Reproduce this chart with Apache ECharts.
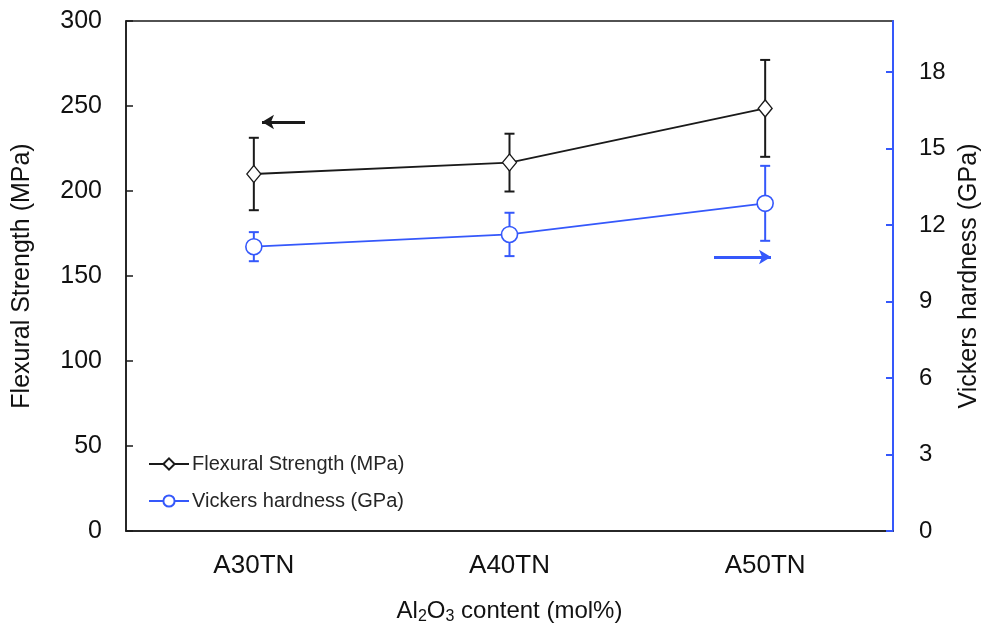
<!DOCTYPE html>
<html>
<head>
<meta charset="utf-8">
<script src="https://cdn.jsdelivr.net/npm/echarts@6/dist/echarts.min.js"></script>
<style>
  html, body { margin: 0; padding: 0; background: #fff; }
  #chart { width: 989px; height: 626px; }
</style>
</head>
<body>
<div id="chart"></div>
<script>
// Samples on the x axis
const categories = ['A30TN', 'A40TN', 'A50TN'];

// Flexural strength (MPa): mean and standard deviation
const flexuralMean = [210, 216.7, 248.6];
const flexuralErr = [21.3, 17, 28.5];

// Vickers hardness (GPa): mean and standard deviation
const hardnessMean = [11.15, 11.63, 12.85];
const hardnessErr = [0.57, 0.85, 1.47];

const BLACK = '#1a1a1a';
const BLUE = '#3558fb';
const FONT = 'Liberation Sans, Arial, sans-serif';

function errorData(mean, err) {
  return mean.map((m, i) => [i, m - err[i], m + err[i]]);
}

function errorBarRenderer(color) {
  return function (params, api) {
    const x = api.value(0);
    const lo = api.coord([x, api.value(1)]);
    const hi = api.coord([x, api.value(2)]);
    const cap = 5;
    const style = { stroke: color, lineWidth: 2 };
    return {
      type: 'group',
      children: [
        { type: 'line', shape: { x1: lo[0], y1: lo[1], x2: hi[0], y2: hi[1] }, style },
        { type: 'line', shape: { x1: hi[0] - cap, y1: hi[1], x2: hi[0] + cap, y2: hi[1] }, style },
        { type: 'line', shape: { x1: lo[0] - cap, y1: lo[1], x2: lo[0] + cap, y2: lo[1] }, style }
      ]
    };
  };
}

const chart = echarts.init(document.getElementById('chart'), null, { renderer: 'canvas' });

chart.setOption({
  animation: false,
  backgroundColor: '#fff',
  textStyle: { fontFamily: FONT },
  grid: {
    left: 126, right: 96, top: 21, bottom: 95,
    show: true, borderColor: BLACK, borderWidth: 1.5,
    outerBoundsMode: 'none', containLabel: false
  },
  legend: {
    orient: 'vertical',
    left: 143, top: 449,
    itemWidth: 40, itemHeight: 14, itemGap: 17,
    textStyle: { fontSize: 20, color: '#262626', fontFamily: FONT, padding: [0, 0, 0, -2] },
    data: ['Flexural Strength (MPa)', 'Vickers hardness (GPa)']
  },
  xAxis: {
    type: 'category',
    data: categories,
    boundaryGap: true,
    axisLine: { lineStyle: { color: BLACK, width: 1.5 } },
    axisTick: { alignWithLabel: true, inside: true, length: 7, lineStyle: { color: BLACK, width: 1.5 } },
    axisLabel: { fontSize: 26, color: '#111', margin: 22, fontFamily: FONT },
    name: '{n|Al}{s|2}{n|O}{s|3}{n| content (mol%)}',
    nameLocation: 'middle',
    nameGap: 66,
    nameTextStyle: {
      rich: {
        n: { fontSize: 24, color: '#111', fontFamily: FONT },
        s: { fontSize: 16, color: '#111', fontFamily: FONT, verticalAlign: 'bottom', padding: [12, 0, 0, 0] }
      }
    }
  },
  yAxis: [
    {
      type: 'value',
      min: 0, max: 300, interval: 50,
      splitLine: { show: false },
      axisLine: { show: true, lineStyle: { color: BLACK, width: 1.5 } },
      axisTick: { show: true, inside: true, length: 7, lineStyle: { color: BLACK, width: 1.5 } },
      axisLabel: { fontSize: 25, color: '#111', margin: 24, fontFamily: FONT },
      name: 'Flexural Strength (MPa)',
      nameLocation: 'middle',
      nameGap: 91,
      nameTextStyle: { fontSize: 25, color: '#111', fontFamily: FONT }
    },
    {
      type: 'value',
      position: 'right',
      min: 0, max: 20, interval: 3,
      splitLine: { show: false },
      axisLine: { show: true, lineStyle: { color: BLUE, width: 2 } },
      axisTick: { show: true, inside: true, length: 7, lineStyle: { color: BLUE, width: 2 } },
      axisLabel: {
        fontSize: 24, color: '#111', margin: 26, fontFamily: FONT,
        showMaxLabel: false,
        formatter: v => (v % 3 === 0 ? String(v) : '')
      },
      name: 'Vickers hardness (GPa)',
      nameLocation: 'middle',
      nameGap: 64,
      nameRotate: 90,
      nameTextStyle: { fontSize: 25, color: '#111', fontFamily: FONT }
    }
  ],
  series: [
    {
      name: 'Flexural Strength (MPa)',
      type: 'line',
      yAxisIndex: 0,
      data: flexuralMean,
      z: 5,
      symbol: 'diamond',
      symbolSize: [14, 17],
      lineStyle: { color: BLACK, width: 1.8 },
      itemStyle: { color: '#fff', borderColor: BLACK, borderWidth: 1.3 },
      markLine: {
        silent: true,
        symbol: ['none', 'arrow'],
        symbolSize: [11, 12],
        label: { show: false },
        lineStyle: { color: BLACK, width: 3, type: 'solid' },
        data: [[{ x: 305, y: 122 }, { x: 262, y: 122 }]]
      }
    },
    {
      name: 'Vickers hardness (GPa)',
      type: 'line',
      yAxisIndex: 1,
      data: hardnessMean,
      z: 5,
      symbol: 'circle',
      symbolSize: 16,
      lineStyle: { color: BLUE, width: 1.8 },
      itemStyle: { color: '#fff', borderColor: BLUE, borderWidth: 1.6 },
      markLine: {
        silent: true,
        symbol: ['none', 'arrow'],
        symbolSize: [11, 12],
        label: { show: false },
        lineStyle: { color: BLUE, width: 3, type: 'solid' },
        data: [[{ x: 714, y: 257 }, { x: 771, y: 257 }]]
      }
    },
    {
      type: 'custom',
      yAxisIndex: 0,
      z: 3,
      renderItem: errorBarRenderer(BLACK),
      data: errorData(flexuralMean, flexuralErr),
      encode: { x: 0, y: [1, 2] },
      silent: true
    },
    {
      type: 'custom',
      yAxisIndex: 1,
      z: 3,
      renderItem: errorBarRenderer(BLUE),
      data: errorData(hardnessMean, hardnessErr),
      encode: { x: 0, y: [1, 2] },
      silent: true
    }
  ]
});
</script>
</body>
</html>
